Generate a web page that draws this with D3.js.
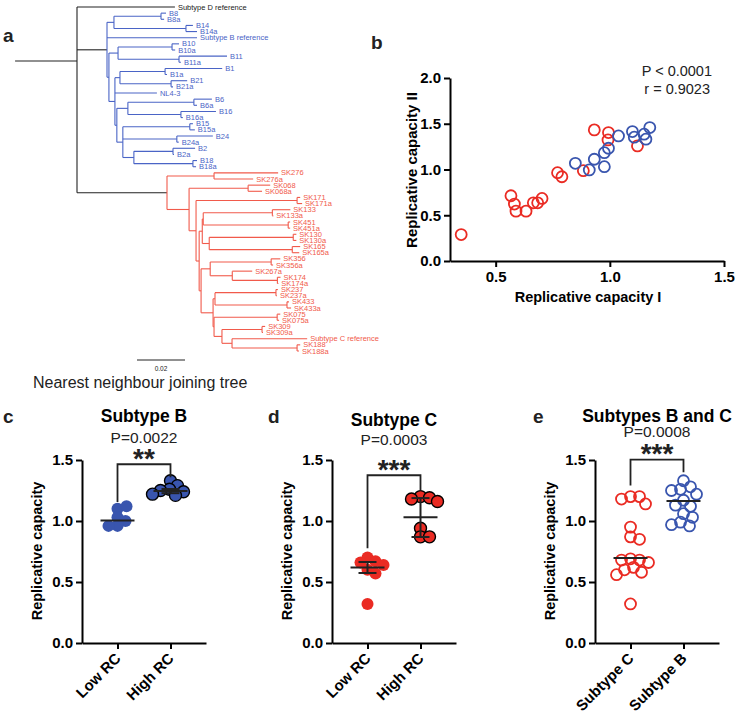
<!DOCTYPE html>
<html>
<head>
<meta charset="utf-8">
<script src="https://cdn.jsdelivr.net/npm/d3@7"></script>
<style>
  body { margin: 0; background: #fff; }
  svg text { font-family: "Liberation Sans", Arial, Helvetica, sans-serif; }
  .ax path, .ax line { stroke: #000; stroke-width: 2; }
  .ax text { font-weight: bold; font-size: 15px; fill: #000; }
</style>
</head>
<body>
<svg id="fig" width="735" height="716"></svg>
<script>
// colours
var RED = "#ea2b23", BLUE = "#3955ae", TREE_RED = "#f15a4b", TREE_BLUE = "#4a64c6", INK = "#222";

// ---- a: neighbour joining tree, rows are [node, parent, branch length]
var treeRows = [
  ["n0", null, 0],
  ["Subtype D reference", "n0", 0.0408],
  ["B", "n0", 0.0125],
  ["_b1", "B", 0.0029],
  ["_b8", "_b1", 0.0196], ["B8", "_b8", 0.0021], ["B8a", "_b8", 0.0013],
  ["_b14", "_b1", 0.0300], ["B14", "_b14", 0.0029], ["B14a", "_b14", 0.0046],
  ["Subtype B reference", "B", 0.0375],
  ["_b2", "B", 0.0008],
  ["_b3", "_b2", 0.0038],
  ["_b10", "_b3", 0.0225], ["B10", "_b10", 0.0029], ["B10a", "_b10", 0.0013],
  ["_b11", "_b3", 0.0254], ["B11", "_b11", 0.0200], ["B11a", "_b11", 0.0008],
  ["_b4", "_b2", 0.0025],
  ["_b5", "_b4", 0.0021],
  ["_b1p", "_b5", 0.0188], ["B1", "_b1p", 0.0238], ["B1a", "_b1p", 0.0008],
  ["_b21", "_b5", 0.0213], ["B21", "_b21", 0.0067], ["B21a", "_b21", 0.0008],
  ["NL4-3", "_b4", 0.0175],
  ["_b6", "_b4", 0.0008],
  ["_b7", "_b6", 0.0046],
  ["_b6p", "_b7", 0.0275], ["B6", "_b6p", 0.0075], ["B6a", "_b6p", 0.0013],
  ["_b16", "_b7", 0.0221], ["B16", "_b16", 0.0146], ["B16a", "_b16", 0.0008],
  ["_b9", "_b6", 0.0025],
  ["_b15", "_b9", 0.0279], ["B15", "_b15", 0.0013], ["B15a", "_b15", 0.0021],
  ["_b24", "_b9", 0.0225], ["B24", "_b24", 0.0150], ["B24a", "_b24", 0.0008],
  ["_b12", "_b9", 0.0046],
  ["_b2p", "_b12", 0.0163], ["B2", "_b2p", 0.0092], ["B2a", "_b2p", 0.0004],
  ["_b18", "_b12", 0.0246], ["B18", "_b18", 0.0017], ["B18a", "_b18", 0.0013],
  ["C", "n0", 0.0375],
  ["_c276", "C", 0.0196], ["SK276", "_c276", 0.0267], ["SK276a", "_c276", 0.0163],
  ["_c1", "C", 0.0092],
  ["_c068", "_c1", 0.0246], ["SK068", "_c068", 0.0092], ["SK068a", "_c068", 0.0058],
  ["_c2", "_c1", 0.0029],
  ["_c171", "_c2", 0.0421], ["SK171", "_c171", 0.0013], ["SK171a", "_c171", 0.0021],
  ["_c3", "_c2", 0.0013],
  ["_c4", "_c3", 0.0013],
  ["_c5", "_c4", 0.0004],
  ["_c133", "_c5", 0.0288], ["SK133", "_c133", 0.0075], ["SK133a", "_c133", 0.0004],
  ["_c451", "_c5", 0.0354], ["SK451", "_c451", 0.0008], ["SK451a", "_c451", 0.0008],
  ["_c6", "_c4", 0.0029],
  ["_c130", "_c6", 0.0350], ["SK130", "_c130", 0.0013], ["SK130a", "_c130", 0.0013],
  ["_c165", "_c6", 0.0346], ["SK165", "_c165", 0.0033], ["SK165a", "_c165", 0.0029],
  ["_c7", "_c3", 0.0008],
  ["_c8", "_c7", 0.0038],
  ["_c356", "_c8", 0.0254], ["SK356", "_c356", 0.0038], ["SK356a", "_c356", 0.0008],
  ["_c267", "_c8", 0.0092], ["SK267a", "_c267", 0.0083],
  ["_c174", "_c267", 0.0188], ["SK174", "_c174", 0.0013], ["SK174a", "_c174", 0.0004],
  ["_c9", "_c7", 0.0050],
  ["_c10", "_c9", 0.0008],
  ["_c237", "_c10", 0.0254], ["SK237", "_c237", 0.0008], ["SK237a", "_c237", 0.0004],
  ["_c433", "_c10", 0.0300], ["SK433", "_c433", 0.0008], ["SK433a", "_c433", 0.0017],
  ["_c11", "_c9", 0.0004],
  ["_c075", "_c11", 0.0263], ["SK075", "_c075", 0.0013], ["SK075a", "_c075", 0.0008],
  ["_c12", "_c11", 0.0033],
  ["_c309", "_c12", 0.0167], ["SK309", "_c309", 0.0013], ["SK309a", "_c309", 0.0004],
  ["_c13", "_c12", 0.0042],
  ["Subtype C reference", "_c13", 0.0313],
  ["_c188", "_c13", 0.0271], ["SK188", "_c188", 0.0013], ["SK188a", "_c188", 0.0008]
];
var rootStem = 0.0258;
var scaleBar = 0.02;

// ---- b: replicative capacity I vs II
var redRC1  = [0.567, 0.582, 0.589, 0.633, 0.665, 0.684, 0.703, 0.771, 0.790, 0.884, 0.932, 0.994, 0.992, 1.121, 0.349];
var redRC2  = [0.713, 0.622, 0.545, 0.545, 0.636, 0.636, 0.684, 0.965, 0.921, 0.987, 1.433, 1.404, 1.323, 1.258, 0.289];
var blueRC1 = [0.849, 0.910, 0.932, 0.976, 0.976, 0.994, 1.038, 1.099, 1.107, 1.150, 1.158, 1.175];
var blueRC2 = [1.068, 0.995, 1.112, 1.031, 1.184, 1.232, 1.367, 1.415, 1.353, 1.386, 1.331, 1.458];
var statsB = ["P < 0.0001", "r = 0.9023"];

// ---- c, d, e
var rcGroups = ["Low RC", "High RC"];
var subGroups = ["Subtype C", "Subtype B"];
var cLow  = [1.10, 1.12, 1.03, 1.00, 0.96, 0.96];
var cHigh = [1.33, 1.29, 1.26, 1.25, 1.24, 1.22, 1.21];
var cMean = [1.005, 1.245], cLo = [1.005, 1.228], cHi = [1.005, 1.262];
var dLow  = [0.70, 0.67, 0.66, 0.64, 0.60, 0.57, 0.32];
var dHigh = [1.20, 1.19, 1.18, 1.16, 0.94, 0.87, 0.87];
var dMean = [0.618, 1.03], dLo = [0.574, 0.869], dHi = [0.664, 1.188];
var eC = [1.20, 1.20, 1.18, 1.14, 0.95, 0.87, 0.85, 0.69, 0.68, 0.68, 0.66, 0.62, 0.60, 0.58, 0.56, 0.32];
var eB = [1.33, 1.28, 1.26, 1.25, 1.22, 1.17, 1.12, 1.13, 1.06, 1.03, 0.99, 0.97, 0.96];
var eMedian = [0.697, 1.164];
var titles = ["Subtype B", "Subtype C", "Subtypes B and C"];
var pValues = ["P=0.0022", "P=0.0003", "P=0.0008"];
var stars = ["**", "***", "***"];

var svg = d3.select("#fig");

function letter(t, x, y) {
  svg.append("text").attr("x", x).attr("y", y).attr("font-size", 19)
    .attr("font-weight", "bold").attr("fill", INK).text(t);
}

// ================= a =================
(function () {
  var g = svg.append("g");
  var root = d3.stratify().id(function (d) { return d[0]; })
    .parentId(function (d) { return d[1]; })(treeRows);
  root.each(function (n) { n.dist = n.parent ? n.parent.dist + n.data[2] : 0; });
  var x = d3.scaleLinear().domain([0, 0.1]).range([77, 317]);
  var leaves = root.leaves();
  var y = d3.scaleLinear().domain([0, leaves.length - 1]).range([7, 351]);
  leaves.forEach(function (n, i) { n.py = y(i); });
  root.eachAfter(function (n) {
    if (n.children) n.py = (n.children[0].py + n.children[n.children.length - 1].py) / 2;
  });
  function clade(n) {
    var a = n.ancestors(), top = a[a.length - 2];
    if (top && top.id === "B") return TREE_BLUE;
    if (top && top.id === "C") return TREE_RED;
    return INK;
  }
  // root stem
  g.append("line").attr("x1", x(-rootStem)).attr("x2", x(0)).attr("y1", 61).attr("y2", 61)
    .attr("stroke", INK).attr("stroke-width", 1.1);
  // horizontal branches
  g.selectAll(".hb").data(root.descendants().slice(1)).join("line")
    .attr("x1", function (n) { return x(n.parent.dist); })
    .attr("x2", function (n) { return x(n.dist); })
    .attr("y1", function (n) { return n.py; }).attr("y2", function (n) { return n.py; })
    .attr("stroke", function (n) { return n.depth === 1 ? INK : clade(n); })
    .attr("stroke-width", 1.1);
  // vertical connectors
  g.selectAll(".vb").data(root.descendants().filter(function (n) { return n.children; })).join("line")
    .attr("x1", function (n) { return x(n.dist); }).attr("x2", function (n) { return x(n.dist); })
    .attr("y1", function (n) { return n.children[0].py; })
    .attr("y2", function (n) { return n.children[n.children.length - 1].py; })
    .attr("stroke", function (n) { return clade(n); })
    .attr("stroke-width", 1.1);
  g.selectAll(".lb").data(leaves).join("text")
    .attr("x", function (n) { return x(n.dist) + 3; })
    .attr("y", function (n) { return n.py; }).attr("dy", "0.35em")
    .attr("font-size", 7.5).attr("fill", clade)
    .text(function (n) { return n.id; });
  // scale bar
  g.append("line").attr("x1", x(0.025)).attr("x2", x(0.025 + scaleBar))
    .attr("y1", 360).attr("y2", 360).attr("stroke", INK).attr("stroke-width", 1);
  g.append("text").attr("x", x(0.025 + scaleBar / 2)).attr("y", 371).attr("text-anchor", "middle")
    .attr("font-size", 6.5).attr("fill", INK).text(scaleBar);
  g.append("text").attr("x", 33).attr("y", 388).attr("font-size", 16).attr("fill", INK)
    .text("Nearest neighbour joining tree");
  letter("a", 3, 42);
})();

// ================= b =================
(function () {
  var g = svg.append("g");
  var x = d3.scaleLinear().domain([0.3, 1.5]).range([450, 724]);
  var y = d3.scaleLinear().domain([0, 2]).range([261, 78]);
  g.append("g").attr("class", "ax").attr("transform", "translate(0,261)")
    .call(d3.axisBottom(x).tickValues([0.5, 1, 1.5]).tickFormat(d3.format(".1f"))
      .tickSize(6).tickSizeOuter(0).tickPadding(4));
  g.append("g").attr("class", "ax").attr("transform", "translate(450,0)")
    .call(d3.axisLeft(y).tickValues([0, 0.5, 1, 1.5, 2]).tickFormat(d3.format(".1f"))
      .tickSize(6).tickSizeOuter(0).tickPadding(3));
  var pts = redRC1.map(function (v, i) { return { x: v, y: redRC2[i], c: RED }; })
    .concat(blueRC1.map(function (v, i) { return { x: v, y: blueRC2[i], c: BLUE }; }));
  g.selectAll("circle").data(pts).join("circle")
    .attr("cx", function (d) { return x(d.x); }).attr("cy", function (d) { return y(d.y); })
    .attr("r", 5.5).attr("fill", "none").attr("stroke", function (d) { return d.c; })
    .attr("stroke-width", 1.8);
  g.append("text").attr("x", 588).attr("y", 302).attr("text-anchor", "middle")
    .attr("font-size", 14.5).attr("font-weight", "bold").text("Replicative capacity I");
  g.append("text").attr("transform", "translate(417,170) rotate(-90)").attr("text-anchor", "middle")
    .attr("font-size", 15).attr("font-weight", "bold").text("Replicative capacity II");
  g.selectAll(".st").data(statsB).join("text")
    .attr("x", function (d, i) { return i ? 710 : 712; })
    .attr("y", function (d, i) { return 76 + i * 18; })
    .attr("text-anchor", "end").attr("font-size", 14.5).attr("fill", INK).text(function (d) { return d; });
  letter("b", 371, 49);
})();

// ================= c, d, e =================
function swarm(vals, y, minD) {
  var placed = [];
  return vals.map(function (v) {
    var py = y(v);
    for (var k = 0; k < 400; k++) {
      var dx = k === 0 ? 0 : (k % 2 ? 1 : -1) * Math.ceil(k / 2);
      var ok = placed.every(function (q) {
        return (q[0] - dx) * (q[0] - dx) + (q[1] - py) * (q[1] - py) >= minD * minD;
      });
      if (ok) { placed.push([dx, py]); return dx; }
    }
    return 0;
  });
}

function dotPanel(p) {
  var g = svg.append("g");
  var y = d3.scaleLinear().domain([0, 1.5]).range([643, 460]);
  var x = d3.scalePoint().domain(p.groups).range([p.x0, p.x0 + 124]).padding(0.67);
  g.append("g").attr("class", "ax").attr("transform", "translate(" + p.x0 + ",0)")
    .call(d3.axisLeft(y).tickValues([0, 0.5, 1, 1.5]).tickFormat(d3.format(".1f"))
      .tickSize(6).tickSizeOuter(0).tickPadding(3));
  var xa = g.append("g").attr("class", "ax").attr("transform", "translate(0,643)")
    .call(d3.axisBottom(x).tickSize(6).tickSizeOuter(0));
  xa.selectAll("text").attr("text-anchor", "end").attr("x", -9).attr("y", 9)
    .attr("dy", "0.35em").attr("transform", "rotate(-45)");
  g.append("text").attr("transform", "translate(" + (p.x0 - 40) + ",551) rotate(-90)")
    .attr("text-anchor", "middle").attr("font-size", 14.5).attr("font-weight", "bold")
    .text("Replicative capacity");

  p.series.forEach(function (vals, gi) {
    var st = p.style[gi];
    var offs = swarm(vals, y, st.gap);
    g.selectAll(".pt" + gi).data(vals).join("circle")
      .attr("cx", function (v, i) { return x(p.groups[gi]) + offs[i]; })
      .attr("cy", function (v) { return y(v); })
      .attr("r", st.r)
      .attr("fill", st.fill)
      .attr("stroke", st.stroke)
      .attr("stroke-width", st.sw);
  });
  // centre lines and error bars
  p.groups.forEach(function (k, gi) {
    var cx = x(k);
    g.append("line").attr("x1", cx - 17).attr("x2", cx + 17)
      .attr("y1", y(p.center[gi])).attr("y2", y(p.center[gi])).attr("stroke", INK).attr("stroke-width", 2);
    if (p.lo && p.hi[gi] - p.lo[gi] > 0) {
      g.append("line").attr("x1", cx).attr("x2", cx).attr("y1", y(p.lo[gi])).attr("y2", y(p.hi[gi]))
        .attr("stroke", INK).attr("stroke-width", 2);
      [p.lo[gi], p.hi[gi]].forEach(function (v) {
        g.append("line").attr("x1", cx - 9).attr("x2", cx + 9).attr("y1", y(v)).attr("y2", y(v))
          .attr("stroke", INK).attr("stroke-width", 2);
      });
    }
  });
  // significance bracket
  var xl = x(p.groups[0]), xr = x(p.groups[1]), yt = y(p.bracket[0]);
  g.append("path")
    .attr("d", "M" + xl + "," + y(p.bracket[1]) + "V" + yt + "H" + xr + "V" + y(p.bracket[2]))
    .attr("fill", "none").attr("stroke", INK).attr("stroke-width", 1.8);
  var cx = (xl + xr) / 2;
  g.append("text").attr("x", cx).attr("y", yt + 3.5).attr("text-anchor", "middle")
    .attr("font-size", 28).attr("font-weight", "bold").attr("fill", INK).text(p.stars);
  g.append("text").attr("x", cx).attr("y", p.pY).attr("text-anchor", "middle")
    .attr("font-size", 15.5).attr("fill", INK).text(p.pValue);
  g.append("text").attr("x", cx).attr("y", p.titleY).attr("text-anchor", "middle")
    .attr("font-size", 17.5).attr("font-weight", "bold").attr("fill", "#000").text(p.title);
  letter(p.letter, p.letterX, 423);
}

var filled = { r: 6, fill: null, stroke: "none", sw: 0, gap: 8.5 };
dotPanel({
  x0: 82, groups: rcGroups, series: [cLow, cHigh],
  style: [
    { r: 6, fill: BLUE, stroke: "none", sw: 0, gap: 8.5 },
    { r: 6, fill: BLUE, stroke: "#000", sw: 1.4, gap: 8.5 }
  ],
  center: cMean, lo: cLo, hi: cHi,
  bracket: [1.465, 1.156, 1.358],
  stars: stars[0], pValue: pValues[0], title: titles[0], pY: 443, titleY: 422,
  letter: "c", letterX: 3
});
dotPanel({
  x0: 332, groups: rcGroups, series: [dLow, dHigh],
  style: [
    { r: 6, fill: RED, stroke: "none", sw: 0, gap: 8.5 },
    { r: 6, fill: RED, stroke: "#000", sw: 1.4, gap: 8.5 }
  ],
  center: dMean, lo: dLo, hi: dHi,
  bracket: [1.375, 0.776, 1.25],
  stars: stars[1], pValue: pValues[1], title: titles[1], pY: 445, titleY: 426,
  letter: "d", letterX: 268
});
dotPanel({
  x0: 595, groups: subGroups, series: [eC, eB],
  style: [
    { r: 5.5, fill: "none", stroke: RED, sw: 1.8, gap: 9 },
    { r: 5.5, fill: "none", stroke: BLUE, sw: 1.8, gap: 9 }
  ],
  center: eMedian, lo: null, hi: null,
  bracket: [1.503, 1.29, 1.40],
  stars: stars[2], pValue: pValues[2], title: titles[2], pY: 437, titleY: 421.5,
  letter: "e", letterX: 533
});
</script>
</body>
</html>
